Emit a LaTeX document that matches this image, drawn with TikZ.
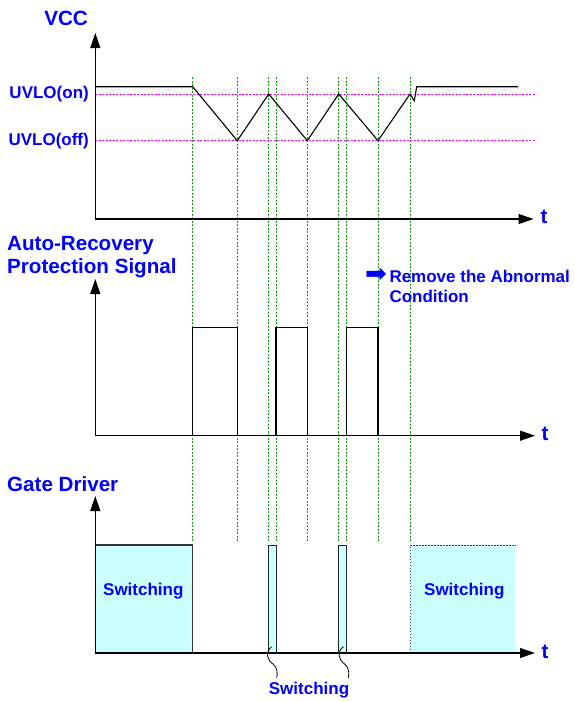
\documentclass[tikz,border=0pt]{standalone}
\usepackage{fontspec}
\setmainfont{Liberation Sans}
\newfontfamily\dejavu{DejaVu Sans}
\usetikzlibrary{arrows.meta}
\definecolor{lblue}{HTML}{0000FF}
\definecolor{swcyan}{HTML}{CCFFFF}
\definecolor{uvlo}{HTML}{FF00FF}
\definecolor{guidegreen}{HTML}{119911}

\begin{document}
\begin{tikzpicture}[
  x=1pt, y=-1pt,
  lbl/.style={font=\fontsize{20.6}{23.5}\selectfont\bfseries, text=lblue, inner sep=0pt, align=left},
  small/.style={font=\fontsize{17}{19}\selectfont\bfseries, text=lblue, inner sep=0pt},
  note/.style={font=\fontsize{17}{20}\selectfont\bfseries, text=lblue, inner sep=0pt, align=left},
  axis/.style={-{Triangle[length=15pt, width=10pt]}, line width=1.1pt},
  wave/.style={line width=1.1pt},
  guide/.style={draw=guidegreen, line width=1pt, dash pattern=on 2pt off 1.5pt},
  level/.style={draw=uvlo, line width=1pt, dash pattern=on 2pt off 1.5pt},
  edge/.style={draw=black!75, line width=1pt, dash pattern=on 1.5pt off 1.5pt}
]
  \useasboundingbox (0,0) rectangle (574,702);

  % time markers
  \foreach \gx in {192.7,237.3,268.7,276,307.3,338.7,346.7,378,410}
    \draw[guide] (\gx,77) -- (\gx,541);

  % VCC
  \coordinate (o1) at (95.3,219);
  \coordinate (y1) at (95.3,33);
  \coordinate (x1) at (533.5,219);
  \draw[level] (95.3,94) -- (536,94);
  \draw[level] (95.3,140.7) -- (536,140.7);
  \draw[wave] (95.3,86.7) -- (192.7,86.7) -- (237.3,140.7) -- (268.7,94) -- (307.3,140.7)
    -- (338.7,94) -- (378,140.7) -- (410,94) -- (414.3,100.7) -- (416.7,86.7) -- (518,86.7);
  \draw[axis] (o1) -- (y1);
  \draw[axis] (o1) -- (x1);
  \node[lbl, anchor=east] (vcc) at (88,18) {VCC};
  \node[small, anchor=east] (uvon) at (89,94.5) {UVLO(on)};
  \node[small, anchor=east] (uvoff) at (89,141) {UVLO(off)};
  \node[lbl] (t1) at (544,217) {t};

  % protection signal
  \coordinate (o2) at (95.3,435.7);
  \coordinate (y2) at (95.3,279);
  \coordinate (x2) at (535,435.7);
  \draw[wave] (192.7,435.7) rectangle (237.3,327.7);
  \draw[wave] (276,435.7) rectangle (307.3,327.7);
  \draw[wave] (346.7,435.7) rectangle (378,327.7);
  \draw[axis] (o2) -- (y2);
  \draw[axis] (o2) -- (x2);
  \node[lbl, anchor=west] (prot) at (7,257) {Auto-Recovery\\Protection Signal};
  \node[note, anchor=north west] (remove) at (389.3,269.5) {Remove the Abnormal\\Condition};
  \node[inner sep=0pt, text=lblue, font=\dejavu\fontsize{26}{28}\selectfont] (arr) at (376,275.5) {➡};
  \node[lbl] (t2) at (545,434) {t};

  % gate driver
  \coordinate (o3) at (95.3,653);
  \coordinate (y3) at (95.3,496);
  \coordinate (x3) at (535,653);
  \fill[swcyan] (95.3,545) rectangle (192.7,653);
  \draw[wave, black!80] (95.3,545) -| (192.7,653);
  \filldraw[fill=swcyan, draw=black!85, line width=1pt] (268.7,653) rectangle (276,545);
  \filldraw[fill=swcyan, draw=black!85, line width=1pt] (338.7,653) rectangle (346.7,545);
  \fill[swcyan] (410,545) rectangle (515.7,653);
  \draw[edge] (410,653) |- (515.7,545);
  \draw[axis] (o3) -- (y3);
  \draw[axis] (o3) -- (x3);
  \node[lbl, anchor=west] (gate) at (7,484) {Gate Driver};
  \node[small] (sw1) at (143.3,591.5) {Switching};
  \node[small] (sw2) at (464.3,591.5) {Switching};
  \node[small] (sw3) at (309,690) {Switching};
  \node[lbl] (t3) at (545,652) {t};
  \draw[line width=0.8pt] (271.7,646.7) .. controls (265,652) and (267,660) .. (273,664)
    .. controls (278,668) and (277.5,674) .. (276.7,678);
  \draw[line width=0.8pt] (343.3,646.7) .. controls (336.6,652) and (338.6,660) .. (344.6,664)
    .. controls (349.6,668) and (349.1,674) .. (348.3,678);
\end{tikzpicture}
\end{document}
